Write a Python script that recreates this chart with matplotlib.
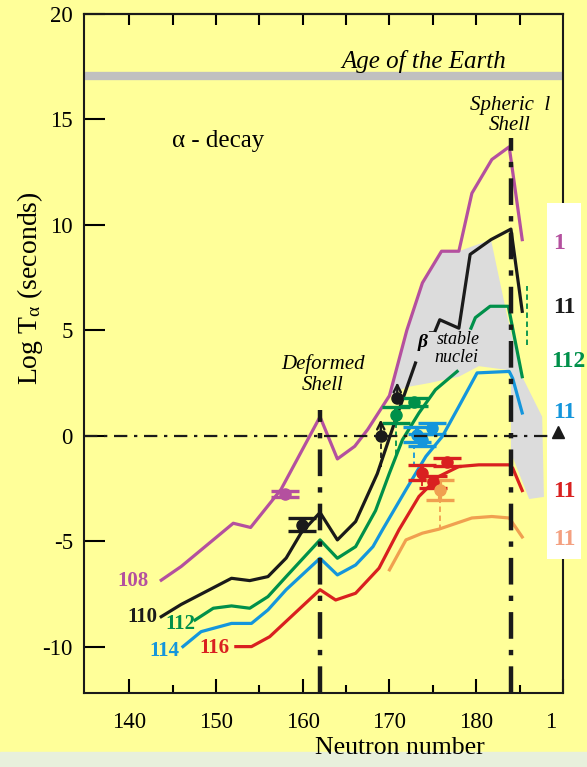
import matplotlib.pyplot as plt
import matplotlib.transforms as mtransforms
from matplotlib.patches import Rectangle, Polygon
import numpy as np

plt.rcParams['font.family'] = 'Liberation Serif'
plt.rcParams['mathtext.fontset'] = 'custom'
plt.rcParams['mathtext.rm'] = 'Liberation Serif'
plt.rcParams['mathtext.it'] = 'Liberation Serif:italic'

nan = np.nan

# Calculated alpha-decay half-lives (log10 seconds) vs neutron number
n108 = [143.7, 146, 152, 154, 157.5, 162, 164, 166, 167.5, 170, 172, 173.8, 176, 178, 179.5, 181.8, 183.8, 185.3]
t108 = [-6.85, -6.2, -4.15, -4.35, -2.55, 0.9, -1.1, -0.5, 0.3, 1.9, 5.0, 7.25, 8.75, 8.75, 11.5, 13.1, 13.7, 9.3]

n110 = [143.7, 146, 151.8, 153.9, 156, 158.1, 159.8, 162, 164, 166.1, 168.6, 170.7, 173.0, nan, 175.3, 175.8, 178, 179.3, 181.7, 184.0, 185.3]
t110 = [-8.58, -8.0, -6.76, -6.87, -6.68, -5.8, -4.62, -3.64, -4.94, -4.07, -1.8, 0.76, 3.45, nan, 5.0, 5.5, 5.1, 8.6, 9.3, 9.8, 5.9]

n112 = [147.6, 149.7, 151.8, 153.9, 156, 158.1, 162, 164, 166.1, 168.4, 170, 171.5, 173.4, 175.3, 177.8, nan, 179.4, 179.9, 181.6, 183.7, 185.3]
t112 = [-8.74, -8.18, -8.07, -8.18, -7.63, -6.68, -4.94, -5.81, -5.26, -3.55, -1.77, -0.19, 1.08, 2.18, 3.05, nan, 5.1, 5.6, 6.14, 6.14, 2.8]

n114 = [146.2, 148.3, 151.8, 154.1, 156, 158.1, 162, 164, 166.1, 168.1, 169.2, 171.9, 174.2, 176.1, 178, 180.1, 183.8, 184.2, 185.3]
t114 = [-10.0, -9.29, -8.9, -8.9, -8.26, -7.3, -5.81, -6.6, -6.13, -5.26, -4.46, -2.56, -0.98, -0.03, 1.39, 2.98, 3.05, 2.72, 1.08]

n116 = [152.3, 154.1, 156.2, 162, 163.8, 166.1, 168.8, 171.1, 173.4, 175.7, 178, 180.3, 183.8, 184.2, 185.3]
t116 = [-10.0, -10.0, -9.53, -7.3, -7.79, -7.47, -6.28, -4.46, -2.88, -1.93, -1.46, -1.38, -1.38, -1.53, -2.6]

n118 = [170, 171.9, 173.8, 175.7, 179.5, 181.8, 183.8, 185.3]
t118 = [-6.36, -4.94, -4.62, -4.43, -3.9, -3.83, -3.9, -4.8]

# Measured half-lives with error bars
eb108_n, eb108_t, eb108_e = [158.0], [-2.77], [0.13]
eb110_n, eb110_t, eb110_e = [159.9], [-4.22], [0.32]
eb112_n, eb112_t, eb112_e = [170.7, 172.8], [1.0, 1.6], [0.38, 0.2]
eb114_n, eb114_t, eb114_e = [173.2, 173.8, 174.9], [0.05, -0.2, 0.35], [0.35, 0.3, 0.25]
eb116_n, eb116_t, eb116_e = [173.8, 175.0, 176.6], [-1.75, -2.2, -1.25], [0.35, 0.3, 0.2]
eb118_n, eb118_t, eb118_e = [175.8], [-2.56], [0.48]

# Lower limits (arrows up)
lim_n = [169.0, 170.9]
lim_t = [0.0, 1.8]
lim_top = [0.9, 2.66]

# Dashed guides from measured points down to the curves
drop_n = [169.0, 170.8, 172.8, 173.8, 175.8, 185.8]
drop_hi = [0.0, 0.6, -0.5, -2.1, -3.1, 7.1]
drop_lo = [-1.46, -0.9, -1.5, -2.4, -4.45, 4.3]
drop_c = ['#1A1A1A', '#00904A', '#1496DC', '#D92020', '#F0A050', '#00904A']

# Beta-stable nuclei region
beta_n = [170, 172, 173.8, 176, 178, 181.7, 183.5, 185.3, 187.6, 187.8, 186.1, 184.0, 184.0, 180.3, 178, 174.6, 171.9]
beta_t = [1.9, 5.0, 7.25, 8.75, 8.75, 9.3, 5.8, 2.8, 0.9, -2.9, -3.0, -0.8, 3.1, 3.3, 2.8, 2.5, 2.3]

age_earth = 17.05
deformed_n, deformed_top = 162, 1.2
spherical_n, spherical_top = 184, 14.1

bg = '#FFFF99'
c108, c110, c112, c114, c116, c118 = '#B4509F', '#1A1A1A', '#00904A', '#1496DC', '#D92020', '#F0A050'

fig = plt.figure(figsize=(5.87, 7.67), dpi=100, facecolor=bg)
fig.patches.append(Rectangle((0, 0), 1, 15 / 767, transform=fig.transFigure,
                             color='#E8F0DC', zorder=0))
ax = fig.add_axes([84 / 587, 1 - 693 / 767, 479 / 587, 679 / 767], facecolor=bg)
ax.set_xlim(134.8, 190)
ax.set_ylim(-12.2, 20)

ax.add_patch(Polygon(list(zip(beta_n, beta_t)), closed=True, color='#DCDCDC', lw=0, zorder=1))
ax.axhline(age_earth, color='#C0C0C0', lw=6, zorder=1)

# zero line
ax.plot([134.8, 190.1], [0, 0], color='#1A1A1A', lw=1.6,
        ls=(0, (6, 3, 1.5, 3)), clip_on=False, zorder=6)

for n, t, c in [(n108, t108, c108), (n110, t110, c110), (n112, t112, c112),
                (n114, t114, c114), (n116, t116, c116), (n118, t118, c118)]:
    ax.plot(n, t, color=c, lw=2.3, zorder=3)

# shell closures
ax.plot([deformed_n, deformed_n], [-12.2, deformed_top], color='#1A1A1A', lw=3.2,
        ls=(0, (6, 2.5, 1.2, 2.5)), zorder=4)
ax.plot([spherical_n, spherical_n], [-12.2, spherical_top], color='#1A1A1A', lw=3.2,
        ls=(0, (6, 2.5, 1.2, 2.5)), zorder=4)

ax.vlines(drop_n, drop_lo, drop_hi, colors=drop_c, lw=1.3, linestyles=(0, (3, 2)), zorder=3)

for n, t, e, c in [(eb108_n, eb108_t, eb108_e, c108), (eb110_n, eb110_t, eb110_e, c110),
                   (eb112_n, eb112_t, eb112_e, c112), (eb114_n, eb114_t, eb114_e, c114),
                   (eb116_n, eb116_t, eb116_e, c116), (eb118_n, eb118_t, eb118_e, c118)]:
    ax.errorbar(n, t, yerr=e, fmt='o', color=c, ms=8, elinewidth=3, capsize=10,
                capthick=2.4, zorder=5)

ax.plot(lim_n, lim_t, 'o', color=c110, ms=8, zorder=5)
for n, t, top in zip(lim_n, lim_t, lim_top):
    ax.annotate('', xy=(n, top), xytext=(n, t),
                arrowprops=dict(arrowstyle='->', color=c110, lw=1.7, mutation_scale=13), zorder=5)

# texts
ax.text(173.9, 17.75, 'Age of the Earth', style='italic', fontsize=18, ha='center', va='center')
ax.text(150.3, 13.96, 'α - decay', fontsize=18, ha='center', va='center')
ax.text(183.9, 15.2, 'Spheric  l\nShell', style='italic', fontsize=15, ha='center',
        va='center', linespacing=1.05)
ax.text(162.3, 2.9, 'Deformed\nShell', style='italic', fontsize=15, ha='center',
        va='center', linespacing=1.1)
ax.text(173.8, 4.4, 'β', style='italic', weight='bold', fontsize=14, ha='center', va='center', zorder=6)
ax.text(174.9, 4.95, '–', weight='bold', fontsize=10, ha='center', va='center', zorder=6)
ax.text(177.9, 4.56, 'stable', style='italic', fontsize=13, ha='center', va='center', zorder=6)
ax.text(177.7, 3.7, 'nuclei', style='italic', fontsize=13, ha='center', va='center', zorder=6)

for x, y, s, c in [(142.3, -6.9, '108', c108), (143.3, -8.6, '110', c110),
                   (147.6, -8.93, '112', c112), (145.8, -10.2, '114', c114),
                   (151.6, -10.07, '116', c116)]:
    ax.text(x, y, s, color=c, fontsize=15, weight='bold', ha='right', va='center')

# white key panel on the right edge
ax.add_patch(Rectangle((188.1, -5.85), 4, 16.9, color='white', lw=0, clip_on=False, zorder=5))
ax.plot([189.4], [0.2], '^', color='#1A1A1A', ms=8, clip_on=False, zorder=7)
for y, s, c in [(9.1, '1', c108), (6.1, '11', c110), (3.5, '112', c112),
                (1.1, '11', c114), (-2.66, '11', c116), (-4.94, '11', '#F4A080')]:
    ax.text(188.6 if s == '112' else 188.9, y, s, color=c, fontsize=17, weight='bold',
            ha='left', va='center', clip_on=False, zorder=7)

# axes styling
for sp in ax.spines.values():
    sp.set_linewidth(1.5)
    sp.set_color('#1A1A1A')
ax.set_xticks([140, 150, 160, 170, 180, 190])
ax.set_xticklabels(['140', '150', '160', '170', '180', '1'])
ax.set_xticks([145, 155, 165, 175, 185], minor=True)
ax.set_yticks([-10, -5, 0, 5, 10, 15, 20])
ax.set_yticklabels(['-10', '-5', '0', '5', '10', '15', '20'])
ax.tick_params(axis='x', which='major', direction='in', length=10, width=1.5, labelsize=16.5, pad=14)
ax.tick_params(axis='x', which='minor', direction='in', length=6, width=1.5)
ax.tick_params(axis='y', direction='in', length=15, width=1.5, labelsize=16.5, pad=8)
lab = ax.get_xticklabels()[-1]
lab.set_transform(lab.get_transform() + mtransforms.ScaledTranslation(-9 / 72, 0, fig.dpi_scale_trans))

top = ax.secondary_xaxis('top')
top.set_xticks([140, 145, 150, 155, 160, 165, 170, 175, 180, 185])
top.tick_params(direction='in', length=8, width=1.5, labeltop=False)
top.spines['top'].set_linewidth(1.5)

fig.text(30 / 587, 1 - 288 / 767, r'Log T$_{\mathrm{α}}$ (seconds)', rotation=90, fontsize=20,
         ha='center', va='center')
fig.text(400 / 587, 1 - 748 / 767, 'Neutron number', fontsize=18.5, ha='center', va='center')

fig.savefig('out.png', dpi=100, facecolor=bg)
